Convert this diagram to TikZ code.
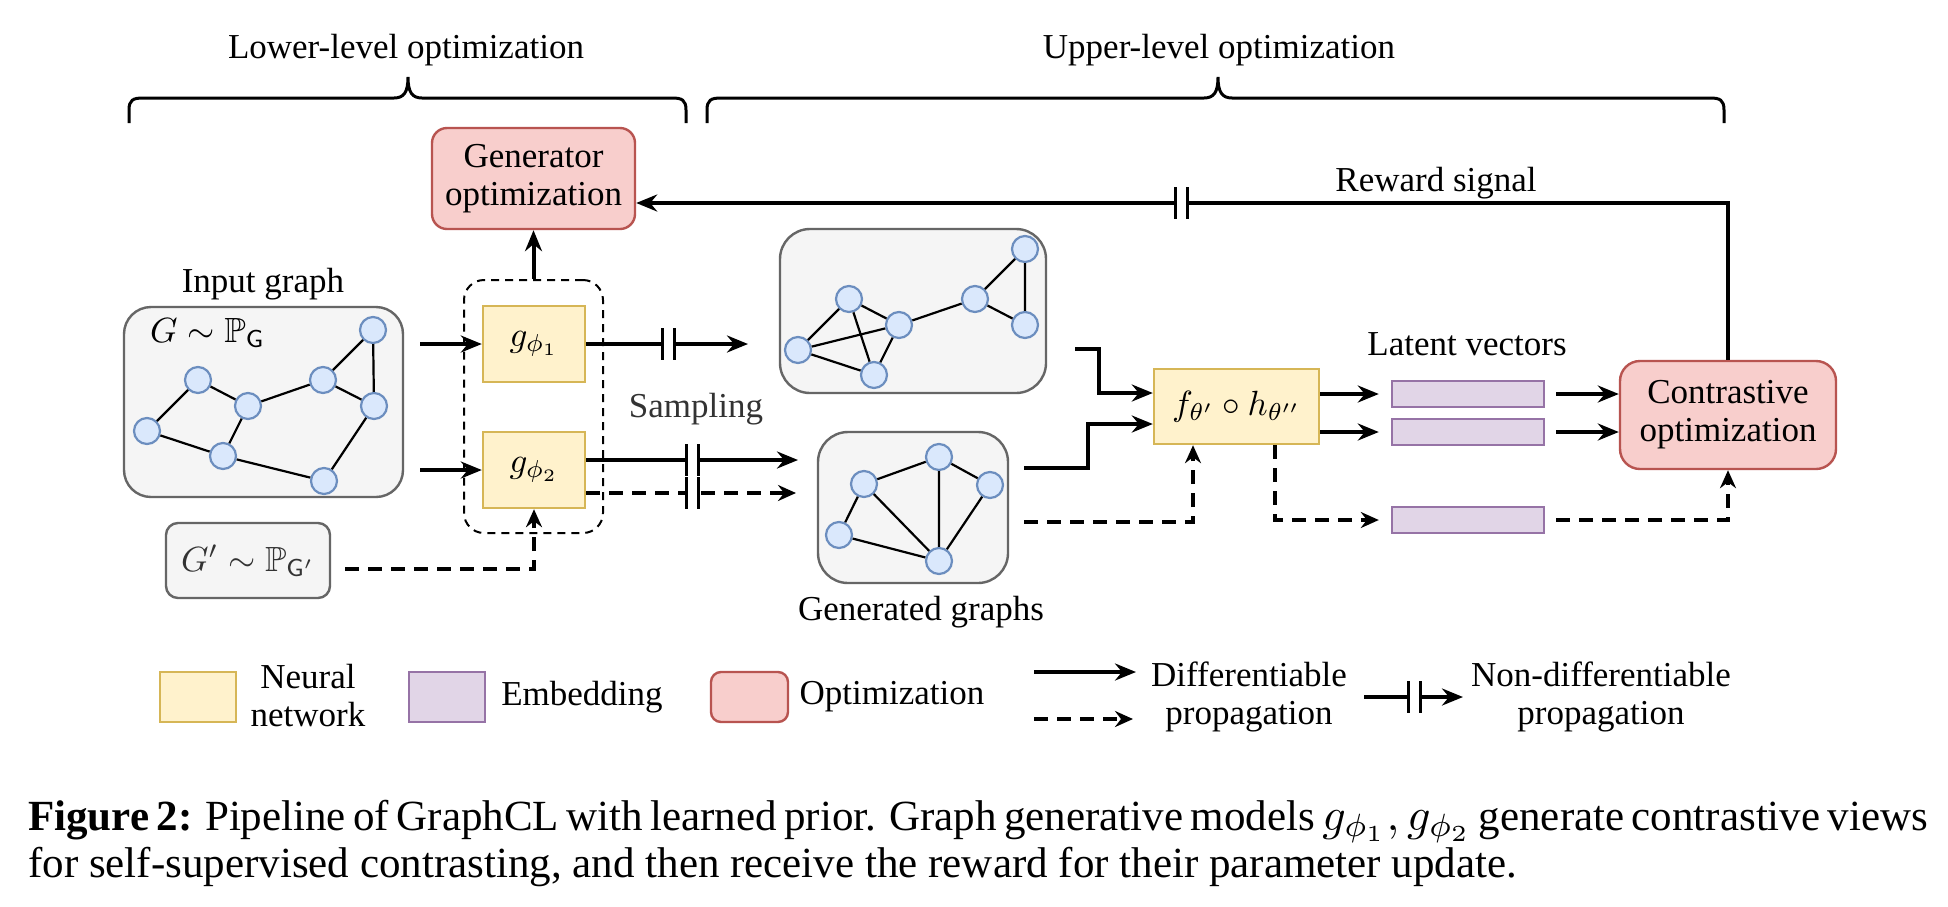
\documentclass[tikz,border=0pt]{standalone}
\usepackage[no-math]{fontspec}
\setmainfont{Liberation Serif}
\usepackage{amssymb}
\usepackage{graphicx}
\usetikzlibrary{arrows.meta}
\definecolor{nnF}{HTML}{FFF2CC}
\definecolor{nnS}{HTML}{D6B656}
\definecolor{emF}{HTML}{E1D5E7}
\definecolor{emS}{HTML}{9673A6}
\definecolor{opF}{HTML}{F8CECC}
\definecolor{opS}{HTML}{B85450}
\definecolor{grF}{HTML}{F5F5F5}
\definecolor{grS}{HTML}{666666}
\definecolor{vxF}{HTML}{DAE8FC}
\definecolor{vxS}{HTML}{6C8EBF}
\definecolor{dgray}{HTML}{333333}
\newcommand{\mth}[1]{\scalebox{3.5}{\normalsize$#1$}}
\newcommand{\capm}[1]{\scalebox{4.6}{\normalsize$#1$}}
\tikzset{
  txt/.style={font=\fontsize{35}{38}\selectfont, inner sep=0pt, align=center},
  gbox/.style={draw=grS, fill=grF, line width=2.4pt},
  vtx/.style={circle, draw=vxS, fill=vxF, line width=2.2pt, minimum size=26pt, inner sep=0pt},
  edg/.style={line width=2.2pt},
  nnbox/.style={draw=nnS, fill=nnF, line width=2.4pt, inner sep=0pt, txt},
  embox/.style={draw=emS, fill=emF, line width=2.4pt, inner sep=0pt},
  opbox/.style={draw=opS, fill=opF, line width=2.4pt, inner sep=0pt, txt},
  arr/.style={line width=4pt, -{Stealth[length=21pt,width=17pt,inset=7pt]}},
  darr/.style={line width=4pt, dash pattern=on 14pt off 9pt, -{Stealth[open,length=18pt,width=16pt,inset=6pt]}},
  brc/.style={line width=3pt},
  captxt/.style={anchor=base west, inner sep=0pt, font=\fontsize{43}{47}\selectfont},
  brk/.pic={\fill[white] (-5,-9) rectangle (5,9);
            \draw[line width=3pt] (-6,-16) -- (-6,16) (6,-16) -- (6,16);}
}
\begin{document}
\begin{tikzpicture}[x=1pt,y=-1pt]
\useasboundingbox (0,0) rectangle (1948,906);
\fill[white] (0,0) rectangle (1948,906);

% ---- braces and titles
\draw[brc] (129,123) -- (129,110) .. controls (129,100) and (133,98) .. (143,98) -- (394,98)
  .. controls (404,98) and (408,92) .. (408,77) .. controls (408,92) and (412,98) .. (422,98)
  -- (672,98) .. controls (682,98) and (686,100) .. (686,110) -- (686,123);
\draw[brc] (707,123) -- (707,110) .. controls (707,100) and (711,98) .. (721,98) -- (1204,98)
  .. controls (1214,98) and (1218,92) .. (1218,77) .. controls (1218,92) and (1222,98) .. (1232,98)
  -- (1710,98) .. controls (1720,98) and (1724,100) .. (1724,110) -- (1724,123);
\node[txt, anchor=base] (lowt) at (406,58) {Lower-level optimization};
\node[txt, anchor=base] (uppt) at (1219,58) {Upper-level optimization};

% ---- input graph
\node[gbox, rounded corners=27pt, minimum width=279pt, minimum height=190pt] (inbox) at (263.5,402) {};
\node[txt, anchor=base] (inlbl) at (263,292) {Input graph};
\node[txt, anchor=west] (gdist) at (150,333) {\mth{G\sim\mathbb{P}_{\mathsf{G}}}};
\node[vtx] (i1) at (373,330) {};
\node[vtx] (i2) at (198,380) {};
\node[vtx] (i3) at (248,406) {};
\node[vtx] (i4) at (323,380) {};
\node[vtx] (i5) at (374,406) {};
\node[vtx] (i6) at (147,431) {};
\node[vtx] (i7) at (223,456) {};
\node[vtx] (i8) at (324,481) {};
\draw[edg] (i1)--(i4) (i1)--(i5) (i4)--(i5) (i2)--(i3) (i3)--(i4) (i2)--(i6)
  (i3)--(i7) (i6)--(i7) (i7)--(i8) (i8)--(i5);

% ---- G' box
\node[gbox, rounded corners=12pt, minimum width=164pt, minimum height=75pt, text=dgray, txt] (gp) at (248,560.5) {\mth{G'\sim\mathbb{P}_{\mathsf{G}'}}};

% ---- generators
\node[draw, line width=2pt, dash pattern=on 8pt off 6pt, rounded corners=20pt, minimum width=139pt, minimum height=253pt] (dbox) at (533.5,406.5) {};
\node[nnbox, minimum width=102pt, minimum height=76pt] (g1) at (534,344) {\mth{g_{\phi_1}}};
\node[nnbox, minimum width=102pt, minimum height=76pt] (g2) at (534,470) {\mth{g_{\phi_2}}};
\node[opbox, rounded corners=15pt, minimum width=203pt, minimum height=101pt] (gen) at (533.5,178.5) {Generator\\optimization};

% ---- generated graphs
\node[gbox, rounded corners=30pt, minimum width=266pt, minimum height=164pt] (tbox) at (913,311) {};
\node[vtx] (ta) at (1025,249) {};
\node[vtx] (tb) at (849,299) {};
\node[vtx] (tc) at (975,299) {};
\node[vtx] (td) at (899,325) {};
\node[vtx] (te) at (1025,325) {};
\node[vtx] (tf) at (798,350) {};
\node[vtx] (tg) at (874,375) {};
\draw[edg] (ta)--(tc) (ta)--(te) (tc)--(te) (tc)--(td) (tb)--(td) (tb)--(tf)
  (tb)--(tg) (tf)--(td) (tf)--(tg) (td)--(tg);

\node[gbox, rounded corners=30pt, minimum width=190pt, minimum height=151pt] (bbox) at (913,507.5) {};
\node[vtx] (bp) at (939,457) {};
\node[vtx] (bq) at (864,484) {};
\node[vtx] (br) at (990,485) {};
\node[vtx] (bs) at (839,535) {};
\node[vtx] (bt) at (939,561) {};
\draw[edg] (bq)--(bp) (bp)--(br) (bp)--(bt) (bq)--(bs) (bq)--(bt) (bs)--(bt) (br)--(bt);

\node[txt, anchor=base, text=dgray] (samp) at (696,417) {Sampling};
\node[txt, anchor=base] (genl) at (921,620) {Generated graphs};

% ---- encoder, latent vectors, contrastive
\node[nnbox, minimum width=165pt, minimum height=75pt] (fb) at (1236.5,406.5) {\mth{f_{\theta'}\circ h_{\theta''}}};
\node[embox, minimum width=152pt, minimum height=26pt] (r1) at (1468,394) {};
\node[embox, minimum width=152pt, minimum height=26pt] (r2) at (1468,432) {};
\node[embox, minimum width=152pt, minimum height=26pt] (r3) at (1468,520) {};
\node[txt, anchor=base] (latl) at (1467,355) {Latent vectors};
\node[opbox, rounded corners=20pt, minimum width=216pt, minimum height=108pt] (cb) at (1728,415) {Contrastive\\optimization};
\node[txt, anchor=base] (rewl) at (1436,191) {Reward signal};

% ---- connectors
\coordinate (in1) at (420,344);
\coordinate (in2) at (420,470);
\draw[arr] (in1) -- (g1.west);
\draw[arr] (in2) -- (g2.west);
\coordinate (s1) at (748,344);
\draw[arr] (g1.east) -- (s1);
\pic at (668,344) {brk};
\coordinate (s2) at (798,460);
\draw[arr] ([yshift=10pt]g2.east) -- (s2);
\pic at (692,460) {brk};
\coordinate (s3) at (796,493);
\draw[darr] ([yshift=-23pt]g2.east) -- (s3);
\pic at (692,493) {brk};
\draw[arr] (dbox.north) -- (gen.south);
\coordinate (gps) at (345,569);
\draw[darr] (gps) -| (g2.south);

\coordinate (t1) at (1075,349);
\draw[arr] (t1) -- ++(24,0) |- ([yshift=13.5pt]fb.west);
\coordinate (t2) at (1024,468);
\draw[arr] (t2) -- ++(64,0) |- ([yshift=-17.5pt]fb.west);
\coordinate (t3) at (1024,522);
\draw[darr] (t3) -| ([xshift=-43.5pt]fb.south);

\draw[arr, shorten >=12pt] (fb.east |- r1.west) -- (r1.west);
\draw[arr, shorten >=12pt] (fb.east |- r2.west) -- (r2.west);
\draw[darr, shorten >=12pt] ([xshift=38.5pt]fb.south) |- (r3.west);
\draw[arr, shorten <=11pt] (r1.east) -- (r1.east -| cb.west);
\draw[arr, shorten <=11pt] (r2.east) -- (r2.east -| cb.west);
\draw[darr, shorten <=11pt] (r3.east) -| (cb.south);
\draw[arr] (cb.north) |- ([yshift=-24.5pt]gen.east);
\pic at (1181,203) {brk};

% ---- legend
\node[nnbox, minimum width=76pt, minimum height=50pt] (lg1) at (198,697) {};
\node[txt] (lg1t) at (308,696) {Neural\\network};
\node[embox, minimum width=76pt, minimum height=50pt] (lg2) at (447,697) {};
\node[txt] (lg2t) at (582,697) {Embedding};
\node[opbox, rounded corners=10pt, minimum width=77pt, minimum height=50pt] (lg3) at (749.5,697) {};
\node[txt] (lg3t) at (892,697) {Optimization};
\coordinate (la1) at (1034,672);
\coordinate (la2) at (1136,672);
\draw[arr] (la1) -- (la2);
\coordinate (lb1) at (1034,719);
\draw[darr] (lb1) -- ++(99,0);
\node[txt] (lg4t) at (1249,697) {Differentiable\\propagation};
\coordinate (lc1) at (1364,697);
\coordinate (lc2) at (1463,697);
\draw[arr] (lc1) -- (lc2);
\pic at (1414,697) {brk};
\node[txt] (lg5t) at (1601,697) {Non-differentiable\\propagation};

% ---- caption
\node[captxt] (cap1) at (28,830)
  {\makebox[1900pt][s]{\textbf{Figure 2:} Pipeline of GraphCL with learned prior. Graph generative models \capm{g_{\phi_1}, g_{\phi_2}} generate contrastive views}};
\node[captxt] (cap2) at (28,877)
  {for self-supervised contrasting, and then receive the reward for their parameter update.};
\end{tikzpicture}
\end{document}
